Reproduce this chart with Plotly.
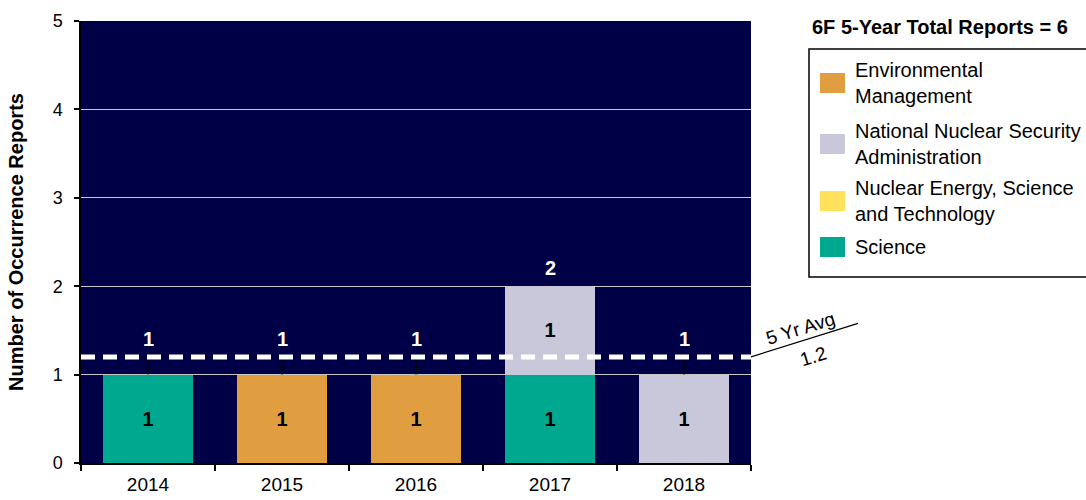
import plotly.graph_objects as go

years = ["2014", "2015", "2016", "2017", "2018"]
env_mgmt = [0, 1, 1, 0, 0]
nnsa = [0, 0, 0, 1, 1]
nest = [0, 0, 0, 0, 0]
science = [1, 0, 0, 1, 0]
five_yr_avg = 1.2
total_reports = 6

totals = [a + b + c + d for a, b, c, d in zip(env_mgmt, nnsa, nest, science)]

FONT = "Liberation Sans, Arial, sans-serif"
W, H = 1086, 500
L, R, T, B = 81, 335, 21, 37


def px_x(p):
    return (p - L) / (W - L - R)


def px_y(p):
    return (H - B - p) / (H - T - B)


fig = go.Figure()

# stack order bottom -> top: Science, NEST, NNSA, EM
series = [
    ("Science", science, "#00A88F"),
    ("Nuclear Energy, Science<br>and Technology", nest, "#FFE15C"),
    ("National Nuclear Security<br>Administration", nnsa, "#C8C8DA"),
    ("Environmental<br>Management", env_mgmt, "#E09E40"),
]
for name, vals, color in series:
    fig.add_bar(
        x=years, y=vals, name=name, showlegend=False,
        marker=dict(color=color, line=dict(width=0)),
        text=["<b>%d</b>" % v if v else "" for v in vals],
        textposition="inside", insidetextanchor="middle", constraintext="none",
        textfont=dict(color="black", size=20, family=FONT),
        hoverinfo="x+y",
    )

# leader ticks from bar top up to the average line
lx, ly = [], []
for yr, t in zip(years, totals):
    if t < five_yr_avg:
        lx += [yr, yr, None]
        ly += [t, five_yr_avg, None]
fig.add_scatter(x=lx, y=ly, mode="lines", line=dict(color="black", width=1.5),
                showlegend=False, hoverinfo="skip")

# totals above bars (category index, since the year strings look numeric)
for i, t in enumerate(totals):
    fig.add_annotation(x=i, y=max(t, five_yr_avg), text="<b>%d</b>" % t,
                       showarrow=False, xanchor="center", yanchor="bottom", yshift=5,
                       font=dict(color="white", size=20, family=FONT))

# 5 year average dashed line + callout
fig.add_shape(type="line", xref="paper", x0=0, x1=1, yref="y", y0=five_yr_avg, y1=five_yr_avg,
              line=dict(color="white", width=5, dash="14px,8px"))
fig.add_shape(type="line", xref="paper", x0=1.0, x1=px_x(858), yref="y", y0=five_yr_avg, y1=five_yr_avg + 0.38,
              line=dict(color="black", width=1.2))
fig.add_annotation(xref="paper", x=px_x(800), y=five_yr_avg + 0.32, text="5 Yr Avg", textangle=-17,
                   xanchor="center", yanchor="middle",
                   showarrow=False, font=dict(size=19, family=FONT, color="black"))
fig.add_annotation(xref="paper", x=px_x(813), y=five_yr_avg + 0.01, text="1.2", textangle=-17,
                   xanchor="center", yanchor="middle",
                   showarrow=False, font=dict(size=19, family=FONT, color="black"))

# legend, drawn by hand to match the boxed layout
fig.add_annotation(xref="paper", yref="paper", x=px_x(810), y=px_y(27), xanchor="left", yanchor="middle",
                   text="<b>6F 5-Year Total Reports = %d</b>" % total_reports,
                   showarrow=False, font=dict(size=20, family=FONT, color="black"))
fig.add_shape(type="rect", xref="paper", yref="paper", x0=px_x(809), x1=px_x(1095),
              y0=px_y(277), y1=px_y(49), line=dict(color="black", width=1.5), fillcolor="white")
item_centers = [83, 144, 201, 247]
for (name, vals, color), cy in zip(reversed(series), item_centers):
    fig.add_shape(type="rect", xref="paper", yref="paper", x0=px_x(820), x1=px_x(845),
                  y0=px_y(cy + 10), y1=px_y(cy - 10), line=dict(width=0), fillcolor=color)
    fig.add_annotation(xref="paper", yref="paper", x=px_x(853), y=px_y(cy), xanchor="left",
                       yanchor="middle", align="left", text=name, showarrow=False,
                       font=dict(size=20, family=FONT, color="black"))

fig.update_layout(
    width=W, height=H,
    barmode="stack", bargap=0.33,
    margin=dict(l=L, r=R, t=T, b=B, autoexpand=False),
    paper_bgcolor="white", plot_bgcolor="#000046",
    font=dict(family=FONT, color="black"),
    showlegend=False,
)
fig.update_xaxes(type="category", range=[-0.5, len(years) - 0.5], showline=True, linecolor="black",
                 linewidth=1.5, ticks="outside", tickson="boundaries", ticklen=6, tickcolor="black",
                 tickwidth=1.5, tickfont=dict(size=19), tickangle=0, ticklabelstandoff=3,
                 automargin=False)
fig.update_yaxes(range=[0, 5], dtick=1, showline=True, linecolor="black", linewidth=1.5,
                 ticks="outside", ticklen=5, tickcolor="black", tickwidth=1.5, tickfont=dict(size=18),
                 ticklabelstandoff=8, gridcolor="#C8C8C8", gridwidth=1, zeroline=False, automargin=False,
                 title=dict(text="<b>Number of Occurrence Reports</b>", font=dict(size=20), standoff=24))

fig.write_html("out.html", config={"displayModeBar": False},
               post_script="document.body.style.margin='0px';")
